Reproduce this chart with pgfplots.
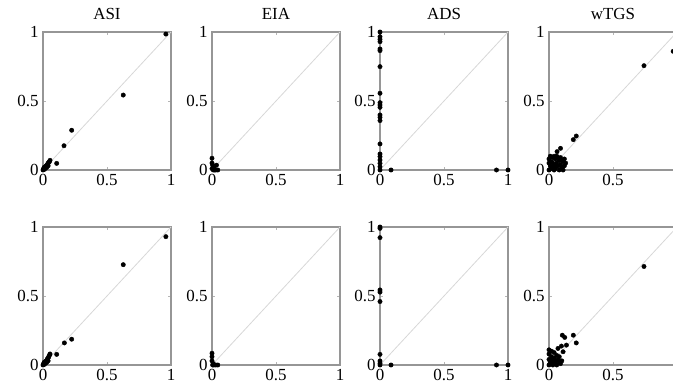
\documentclass[border=0pt]{standalone}
\usepackage{fontspec}
\setmainfont{Liberation Serif}
\usepackage{pgfplots}
\pgfplotsset{compat=1.18}
\definecolor{axgray}{RGB}{150,150,150}
\definecolor{diaggray}{RGB}{215,215,215}
\pgfplotsset{
  panel/.style={
    scale only axis, width=128bp, height=138bp,
    xmin=0, xmax=1, ymin=0, ymax=1,
    xtick={0,0.5,1}, ytick={0,0.5,1},
    xticklabels={0,0.5,1}, yticklabels={0,0.5,1},
    axis line style={draw=axgray, line width=1.4bp},
    tick style={draw=axgray!70, line width=0.6bp},
    major tick length=3bp, tick align=inside,
    ticklabel style={font=\fontsize{17}{19}\selectfont},
    yticklabel style={xshift=-1bp},
    xticklabel style={yshift=-1bp},
    title style={font=\fontsize{17}{19}\selectfont, at={(0.5,1)}, anchor=base, yshift=7bp},
    clip=false, anchor=south west,
  },
  dots/.style={only marks, mark=*, mark size=2.2bp, black, mark options={draw=black, fill=black}},
  diag/.style={draw=diaggray, line width=0.8bp, mark=none},
}
\begin{document}
\begin{tikzpicture}
\useasboundingbox (0,0) rectangle (673bp,392bp);
% ---------- top row ----------
\begin{axis}[panel, at={(43bp,222bp)}, title={ASI}]
\addplot[diag] coordinates {(0,0) (1,1)};
\addplot[dots] coordinates {(0.96,0.985) (0.627,0.543) (0.224,0.288) (0.164,0.176) (0.107,0.048)
 (0,0) (0.005,0.008) (0.01,0.012) (0.015,0.02) (0.02,0.025) (0.025,0.03) (0.03,0.035) (0.035,0.04) (0.04,0.05) (0.045,0.055) (0.05,0.06) (0.055,0.07) (0.012,0.005) (0.022,0.015) (0.03,0.02) (0.04,0.03) (0.008,0.018)};
\end{axis}
\begin{axis}[panel, at={(212bp,222bp)}, title={EIA}]
\addplot[diag] coordinates {(0,0) (1,1)};
\addplot[dots] coordinates {(0.0,0.085) (0.0,0.05) (0.005,0.035) (0.0,0.01) (0.01,0.0) (0.02,0.0) (0.03,0.0) (0.045,0.0) (0.035,0.035) (0.015,0.015)};
\end{axis}
\begin{axis}[panel, at={(380bp,222bp)}, title={ADS}]
\addplot[diag] coordinates {(0,0) (1,1)};
\addplot[dots] coordinates {(0,1.0) (0,0.966) (0,0.947) (0,0.93) (0,0.877) (0,0.865) (0,0.749) (0,0.556) (0,0.488) (0,0.471) (0,0.454) (0,0.399) (0,0.382) (0,0.358) (0,0.189) (0,0.116) (0,0.097) (0,0.072) (0,0.048) (0,0.024) (0,0.0)
 (0.086,0) (0.91,0) (1.0,0)};
\end{axis}
\begin{axis}[panel, at={(549bp,222bp)}, title={wTGS}, xticklabels={0,0.5,{}}]
\addplot[diag] coordinates {(0,0) (1,1)};
\addplot[dots] coordinates {(0.97,0.86) (0.742,0.756) (0.213,0.246) (0.19,0.22) (0.09,0.157) (0.063,0.133)
 (0,0) (0.01,0.03) (0.02,0.06) (0.03,0.09) (0.0,0.05) (0.0,0.08) (0.01,0.1) (0.04,0.1) (0.05,0.08) (0.03,0.05) (0.06,0.1) (0.07,0.09) (0.02,0.02) (0.04,0.03) (0.06,0.05) (0.08,0.07) (0.09,0.09) (0.05,0.01) (0.07,0.03) (0.09,0.04) (0.11,0.06) (0.12,0.08) (0.13,0.05) (0.1,0.02) (0.12,0.03) (0.08,0.0) (0.11,0.0) (0.04,0.0) (0.02,0.01) (0.03,0.02) (0.06,0.03) (0.1,0.07)};
\end{axis}
% ---------- bottom row ----------
\begin{axis}[panel, at={(43bp,27bp)}]
\addplot[diag] coordinates {(0,0) (1,1)};
\addplot[dots] coordinates {(0.96,0.93) (0.627,0.727) (0.224,0.187) (0.167,0.16) (0.107,0.077)
 (0,0) (0.005,0.008) (0.01,0.012) (0.015,0.02) (0.02,0.025) (0.025,0.03) (0.03,0.035) (0.035,0.045) (0.04,0.05) (0.045,0.06) (0.05,0.07) (0.055,0.08) (0.012,0.005) (0.022,0.015) (0.03,0.02) (0.04,0.03) (0.008,0.018)};
\end{axis}
\begin{axis}[panel, at={(212bp,27bp)}]
\addplot[diag] coordinates {(0,0) (1,1)};
\addplot[dots] coordinates {(0.0,0.085) (0.0,0.06) (0.0,0.03) (0.01,0.01) (0.015,0.0) (0.03,0.0) (0.045,0.0) (0.005,0.0)};
\end{axis}
\begin{axis}[panel, at={(380bp,27bp)}]
\addplot[diag] coordinates {(0,0) (1,1)};
\addplot[dots] coordinates {(0,1.0) (0,0.99) (0,0.923) (0,0.544) (0,0.528) (0,0.46) (0,0.077) (0,0.029) (0,0.012) (0,0.0)
 (0.086,0) (0.91,0) (1.0,0)};
\end{axis}
\begin{axis}[panel, at={(549bp,27bp)}, xticklabels={0,0.5,{}}]
\addplot[diag] coordinates {(0,0) (1,1)};
\addplot[dots] coordinates {(0.742,0.714) (0.104,0.216) (0.123,0.2) (0.19,0.216) (0.213,0.16) (0.136,0.144) (0.097,0.137) (0.07,0.12) (0.11,0.096)
 (0,0) (0.0,0.04) (0.0,0.08) (0.0,0.11) (0.02,0.1) (0.04,0.09) (0.02,0.06) (0.04,0.05) (0.06,0.07) (0.03,0.02) (0.05,0.03) (0.07,0.04) (0.08,0.06) (0.1,0.03) (0.09,0.01) (0.06,0.0) (0.03,0.0) (0.01,0.02) (0.02,0.035) (0.05,0.015) (0.08,0.02)};
\end{axis}
\end{tikzpicture}
\end{document}
